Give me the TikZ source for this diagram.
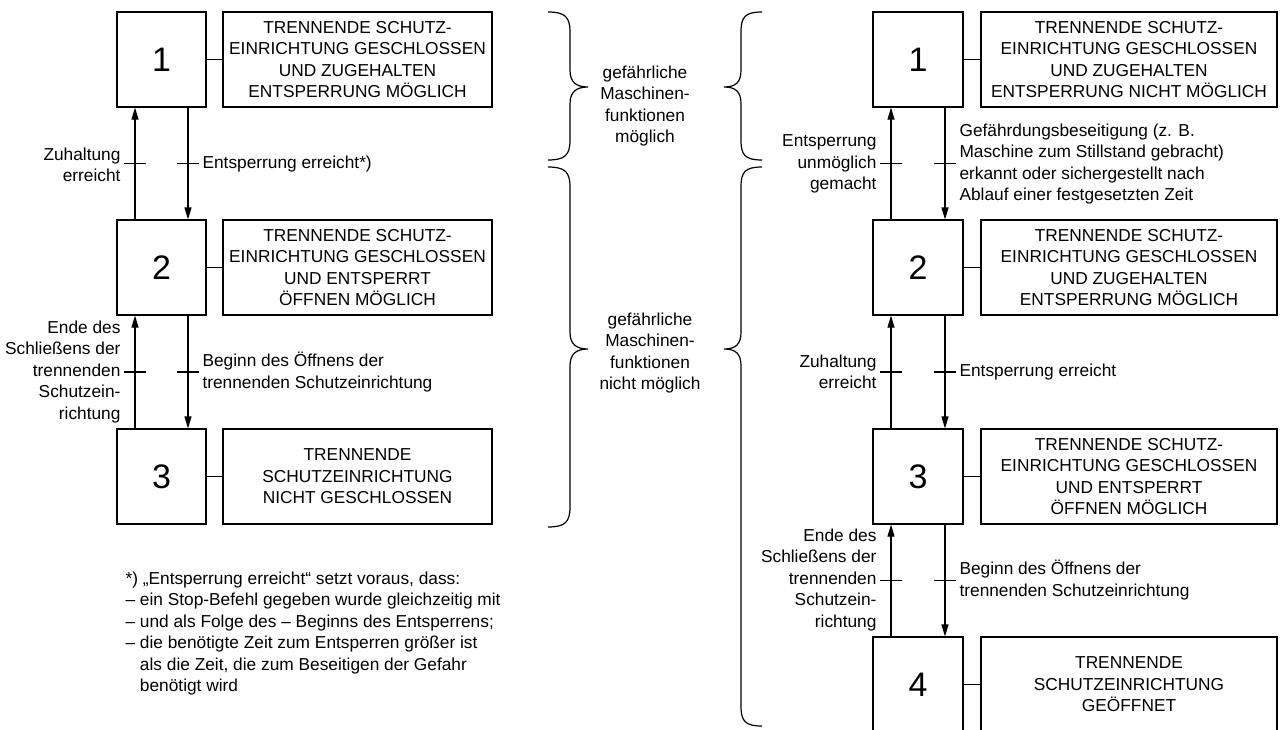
\documentclass[tikz,border=0pt]{standalone}
\usepackage{fontspec}
\setmainfont{Liberation Sans}
\usetikzlibrary{arrows.meta,decorations.markings}
\begin{document}
\begin{tikzpicture}[x=1pt,y=-1pt,line width=1.1pt,
  every node/.style={inner sep=0pt},
  numbox/.style={draw,minimum width=89pt,minimum height=95pt,font=\fontsize{34}{38}\selectfont},
  numboxR/.style={numbox,minimum width=90pt},
  txtbox/.style={draw,minimum width=269pt,minimum height=95pt,align=center,font=\fontsize{17.3}{21.5}\selectfont},
  txtboxR/.style={txtbox,minimum width=296pt},
  lbl/.style={font=\fontsize{17.3}{21.5}\selectfont},
  lblL/.style={lbl,align=right,anchor=east},
  lblR/.style={lbl,align=left,anchor=west},
  flow/.style={-{Triangle[length=12pt,width=7pt]},
    postaction={decorate,decoration={markings,
      mark=at position 0.5 with {\draw[-,line width=1.1pt] (0,-11pt) -- (0,11pt);}}}},
  link/.style={-},
  bracestyle/.style={line width=1.2pt}]
\useasboundingbox (0,0) rectangle (1285,729);

% ---------------- left column ----------------
\node[numbox] (L1) at (161.5,59.5) {1};
\node[numbox] (L2) at (161.5,267.5) {2};
\node[numbox] (L3) at (161.5,476.5) {3};
\node[txtbox] (LT1) at (357.5,59.5) {TRENNENDE SCHUTZ-\\EINRICHTUNG GESCHLOSSEN\\UND ZUGEHALTEN\\ENTSPERRUNG MÖGLICH};
\node[txtbox] (LT2) at (357.5,267.5) {TRENNENDE SCHUTZ-\\EINRICHTUNG GESCHLOSSEN\\UND ENTSPERRT\\ÖFFNEN MÖGLICH};
\node[txtbox] (LT3) at (357.5,476.5) {TRENNENDE\\SCHUTZEINRICHTUNG\\NICHT GESCHLOSSEN};
\draw[link] (L1) -- (LT1);
\draw[link] (L2) -- (LT2);
\draw[link] (L3) -- (LT3);
\draw[flow] ([xshift=-26.5pt]L2.north) -- ([xshift=-26.5pt]L1.south);
\draw[flow] ([xshift=26.5pt]L1.south) -- ([xshift=26.5pt]L2.north);
\draw[flow] ([xshift=-26.5pt]L3.north) -- ([xshift=-26.5pt]L2.south);
\draw[flow] ([xshift=26.5pt]L2.south) -- ([xshift=26.5pt]L3.north);
\node[lblL] (la1) at (121,165) {Zuhaltung\\erreicht};
\node[lblR] (la2) at (202,164) {Entsperrung erreicht*)};
\node[lblL] (la3) at (121,372) {Ende des\\Schließens der\\trennenden\\Schutzein-\\richtung};
\node[lblR] (la4) at (202,372) {Beginn des Öffnens der\\trennenden Schutzeinrichtung};

\node[lbl,align=left,anchor=north west] (foot) at (125,571) {*) „Entsperrung erreicht“ setzt voraus, dass:\\
– ein Stop-Befehl gegeben wurde gleichzeitig mit\\
– und als Folge des – Beginns des Entsperrens;\\
– die benötigte Zeit zum Entsperren größer ist\\
\hphantom{– }als die Zeit, die zum Beseitigen der Gefahr\\
\hphantom{– }benötigt wird};

% ---------------- braces ----------------
\draw[bracestyle] (548,12) .. controls (565,12) and (570,17) .. (570,32) -- (570,70)
  .. controls (570,82) and (576,87) .. (588,87)
  .. controls (576,87) and (570,92) .. (570,104) -- (570,140)
  .. controls (570,155) and (565,160) .. (548,160);
\draw[bracestyle] (548,167) .. controls (565,167) and (570,172) .. (570,187) -- (570,332)
  .. controls (570,344) and (576,349) .. (588,349)
  .. controls (576,349) and (570,354) .. (570,366) -- (570,507)
  .. controls (570,522) and (565,527) .. (548,527);
\draw[bracestyle] (762,12) .. controls (745,12) and (741,17) .. (741,32) -- (741,70)
  .. controls (741,82) and (736,87) .. (724,87)
  .. controls (736,87) and (741,92) .. (741,104) -- (741,140)
  .. controls (741,155) and (745,160) .. (762,160);
\draw[bracestyle] (762,167) .. controls (745,167) and (741,172) .. (741,187) -- (741,332)
  .. controls (741,344) and (736,349) .. (724,349)
  .. controls (736,349) and (741,354) .. (741,366) -- (741,706)
  .. controls (741,721) and (745,726) .. (762,726);
\node[lbl,align=center] (b1) at (645,106) {gefährliche\\Maschinen-\\funktionen\\möglich};
\node[lbl,align=center] (b2) at (650,353) {gefährliche\\Maschinen-\\funktionen\\nicht möglich};

% ---------------- right column ----------------
\node[numboxR] (R1) at (918,59.5) {1};
\node[numboxR] (R2) at (918,267.5) {2};
\node[numboxR] (R3) at (918,476.5) {3};
\node[numboxR] (R4) at (918,684.5) {4};
\node[txtboxR] (RT1) at (1129,59.5) {TRENNENDE SCHUTZ-\\EINRICHTUNG GESCHLOSSEN\\UND ZUGEHALTEN\\ENTSPERRUNG NICHT MÖGLICH};
\node[txtboxR] (RT2) at (1129,267.5) {TRENNENDE SCHUTZ-\\EINRICHTUNG GESCHLOSSEN\\UND ZUGEHALTEN\\ENTSPERRUNG MÖGLICH};
\node[txtboxR] (RT3) at (1129,476.5) {TRENNENDE SCHUTZ-\\EINRICHTUNG GESCHLOSSEN\\UND ENTSPERRT\\ÖFFNEN MÖGLICH};
\node[txtboxR] (RT4) at (1129,684.5) {TRENNENDE\\SCHUTZEINRICHTUNG\\GEÖFFNET};
\draw[link] (R1) -- (RT1);
\draw[link] (R2) -- (RT2);
\draw[link] (R3) -- (RT3);
\draw[link] (R4) -- (RT4);
\draw[flow] ([xshift=-27pt]R2.north) -- ([xshift=-27pt]R1.south);
\draw[flow] ([xshift=27pt]R1.south) -- ([xshift=27pt]R2.north);
\draw[flow] ([xshift=-27pt]R3.north) -- ([xshift=-27pt]R2.south);
\draw[flow] ([xshift=27pt]R2.south) -- ([xshift=27pt]R3.north);
\draw[flow] ([xshift=-27pt]R4.north) -- ([xshift=-27pt]R3.south);
\draw[flow] ([xshift=27pt]R3.south) -- ([xshift=27pt]R4.north);
\node[lblL] (ra1) at (877,164) {Entsperrung\\unmöglich\\gemacht};
\node[lblR] (ra2) at (959,164) {Gefährdungsbeseitigung (z. B.\\Maschine zum Stillstand gebracht)\\erkannt oder sichergestellt nach\\Ablauf einer festgesetzten Zeit};
\node[lblL] (ra3) at (877,372) {Zuhaltung\\erreicht};
\node[lblR] (ra4) at (959,372) {Entsperrung erreicht};
\node[lblL] (ra5) at (877,580) {Ende des\\Schließens der\\trennenden\\Schutzein-\\richtung};
\node[lblR] (ra6) at (959,580) {Beginn des Öffnens der\\trennenden Schutzeinrichtung};
\end{tikzpicture}
\end{document}
